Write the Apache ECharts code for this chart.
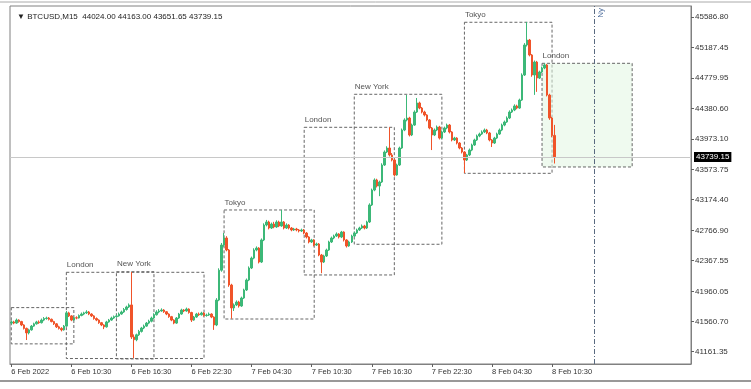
<!DOCTYPE html>
<html><head><meta charset="utf-8">
<script src="https://cdn.jsdelivr.net/npm/echarts@6/dist/echarts.min.js"></script>
<style>html,body{margin:0;padding:0;background:#fff}#c{width:751px;height:389px}</style>
</head><body><div id="c"></div>
<script>
// ---- data (BTCUSD M15) ----
const opens=[41540,41555,41540,41580,41560,41515,41470,41410,41450,41500,
41530,41555,41545,41580,41600,41607,41590,41560,41530,41490,
41470,41450,41500,41675,41635,41580,41610,41607,41640,41660,
41675,41687,41660,41635,41600,41580,41545,41515,41490,41555,
41580,41607,41625,41635,41660,41687,41720,41753,41780,41356,
41320,41385,41430,41475,41500,41540,41565,41607,41650,41687,
41700,41713,41690,41660,41625,41580,41540,41607,41660,41713,
41700,41726,41680,41580,41620,41660,41650,41673,41640,41647,
41660,41620,41515,41845,42240,42573,42666,42507,42044,41740,
41780,41819,41766,41872,41978,42110,42269,42400,42507,42533,
42348,42640,42838,42878,42798,42851,42812,42878,42825,42878,
42798,42838,42798,42772,42785,42772,42759,42772,42732,42679,
42613,42640,42573,42587,42441,42348,42428,42507,42613,42666,
42692,42719,42679,42745,42640,42560,42613,42692,42732,42772,
42798,42825,42798,42878,43103,43301,43434,43354,43407,43632,
43804,43857,43765,43698,43500,43632,43857,44095,44228,44254,
44029,44161,44333,44453,44386,44333,44294,44228,44122,44029,
44095,44135,43989,44069,44122,44161,44069,43963,43989,43923,
43857,43804,43698,43765,43830,43897,43963,44016,44042,44069,
44095,44056,43963,43923,43989,44042,44095,44161,44201,44254,
44333,44360,44413,44386,44492,44823,45220,45286,45088,44823,
44995,44783,44863,44916,44956,44558,44254,44024];
const closes=[41555,41540,41580,41560,41515,41470,41410,41450,41500,41530,
41555,41545,41580,41600,41607,41590,41560,41530,41490,41470,
41450,41500,41675,41635,41580,41610,41607,41640,41660,41675,
41687,41660,41635,41600,41580,41545,41515,41490,41555,41580,
41607,41625,41635,41660,41687,41720,41753,41780,41356,41320,
41385,41430,41475,41500,41540,41565,41607,41650,41687,41700,
41713,41690,41660,41625,41580,41540,41607,41660,41713,41700,
41726,41680,41580,41620,41660,41650,41673,41640,41647,41660,
41620,41515,41845,42240,42573,42666,42507,42044,41740,41780,
41819,41766,41872,41978,42110,42269,42400,42507,42533,42348,
42640,42838,42878,42798,42851,42812,42878,42825,42878,42798,
42838,42798,42772,42785,42772,42759,42772,42732,42679,42613,
42640,42573,42587,42441,42348,42428,42507,42613,42666,42692,
42719,42679,42745,42640,42560,42613,42692,42732,42772,42798,
42825,42798,42878,43103,43301,43434,43354,43407,43632,43804,
43857,43765,43698,43500,43632,43857,44095,44228,44254,44029,
44161,44333,44453,44386,44333,44294,44228,44122,44029,44095,
44135,43989,44069,44122,44161,44069,43963,43989,43923,43857,
43804,43698,43765,43830,43897,43963,44016,44042,44069,44095,
44056,43963,43923,43989,44042,44095,44161,44201,44254,44333,
44360,44413,44386,44492,44823,45220,45286,45088,44823,44995,
44783,44863,44916,44956,44558,44254,44024,43739.15];
const lows=[41520,41525,41530,41545,41500,41455,41316,41390,41440,41490,
41520,41530,41535,41565,41585,41575,41550,41515,41475,41455,
41430,41440,41490,41620,41565,41570,41590,41600,41630,41645,
41660,41645,41620,41585,41565,41530,41500,41460,41480,41545,
41570,41595,41610,41625,41650,41675,41705,41740,41330,41075,
41300,41370,41415,41460,41490,41525,41550,41595,41640,41670,
41690,41675,41645,41610,41565,41525,41530,41595,41650,41685,
41690,41665,41555,41570,41610,41635,41640,41625,41625,41635,
41605,41450,41500,41830,42220,42550,42490,42020,41598,41700,
41765,41745,41755,41860,41965,42095,42255,42385,42490,42330,
42335,42625,42820,42780,42785,42795,42800,42810,42815,42780,
42785,42780,42755,42760,42755,42740,42745,42715,42660,42595,
42600,42555,42560,42425,42200,42335,42415,42495,42600,42650,
42680,42660,42665,42620,42540,42550,42600,42680,42720,42760,
42785,42780,42785,42865,43090,43285,43335,43220,43395,43620,
43790,43745,43680,43480,43490,43620,43845,44080,44210,44010,
44015,44150,44320,44370,44315,44275,44210,44105,43830,44015,
44080,43970,43975,44055,44105,44050,43945,43950,43905,43840,
43785,43525,43685,43750,43815,43885,43950,44000,44030,44055,
44040,43945,43870,43910,43975,44030,44080,44145,44190,44240,
44320,44345,44370,44375,44480,44810,45200,45070,44800,44560,
44600,44770,44850,44900,44540,44230,44000,43651.65];
const highs=[41575,41570,41600,41590,41570,41525,41480,41465,41515,41545,
41570,41575,41600,41620,41625,41620,41600,41570,41540,41505,
41485,41515,41700,41690,41645,41625,41630,41655,41680,41690,
41710,41700,41670,41645,41615,41590,41555,41525,41570,41595,
41625,41640,41655,41680,41705,41740,41770,41800,42216,41390,
41400,41450,41490,41520,41555,41585,41625,41670,41710,41725,
41735,41725,41700,41670,41635,41590,41620,41675,41730,41725,
41745,41735,41690,41635,41675,41680,41690,41685,41665,41680,
41670,41630,41870,42265,42600,42732,42690,42520,42060,41800,
41840,41835,41890,41995,42130,42290,42420,42530,42555,42545,
42660,42860,42905,42895,42870,42880,42900,42895,43037,42890,
42860,42850,42810,42800,42800,42785,42790,42785,42745,42690,
42655,42650,42605,42600,42455,42445,42525,42630,42685,42710,
42740,42730,42760,42755,42650,42630,42710,42750,42790,42815,
42845,42840,42895,43125,43320,43455,43450,43425,43655,43825,
43880,44131,43790,43715,43650,43875,44115,44250,44558,44270,
44180,44355,44519,44470,44400,44350,44305,44240,44135,44115,
44155,44150,44090,44140,44180,44175,44080,44005,44000,43935,
43870,43815,43780,43850,43915,43980,44035,44060,44090,44115,
44110,44070,43975,44005,44060,44115,44180,44220,44275,44355,
44380,44435,44430,44510,44845,45245,45525,45300,45100,45015,
45010,44880,44935,44975,44970,44575,44270,44163];
const yTicks=[41161.35,41560.70,41960.05,42367.55,42766.90,43174.40,43573.75,43973.10,44380.60,44779.95,45187.45,45586.80];
const sessionNames=['','London','New York','Tokyo','London','New York','Tokyo','London'];
const sessionFrom=[0,22,42,85,117,137,181,212];
const sessionTo=[25,77,57,121,153,172,216,248];
const sessionTop=[41745,42212,42220,43037,44131,44568,45521,44978];
const sessionBottom=[41265,41071,41066,41594,42177,42583,43522,43606];
const lastPrice=43739.15;
const nyLineIndex=233;
const header='\u25BC BTCUSD,M15  44024.00 44163.00 43651.65 43739.15';
const barCount=272;
const months=['Jan','Feb','Mar'];

// category labels: 15-minute bars starting 6 Feb 2022 04:30
const categories=[];
const t0=Date.UTC(2022,1,6,4,30);
for(let i=0;i<barCount;i++){
  const d=new Date(t0+i*15*60000);
  const hh=String(d.getUTCHours()).padStart(2,'0');
  const mm=String(d.getUTCMinutes()).padStart(2,'0');
  categories.push(i===0?('6 Feb 2022'):(d.getUTCDate()+' '+months[d.getUTCMonth()]+' '+hh+':'+mm));
}
const candles=opens.map((o,i)=>[o,closes[i],lows[i],highs[i]]);

const areaData=sessionNames.map((n,k)=>[
  {name:n,xAxis:sessionFrom[k],yAxis:sessionTop[k],
   itemStyle:{color:k===7?'rgba(225,245,225,0.55)':'rgba(0,0,0,0)'}},
  {xAxis:sessionTo[k],yAxis:sessionBottom[k]}
]);

const FONT='Liberation Sans';
const chart=echarts.init(document.getElementById('c'),null,{renderer:'canvas'});
chart.setOption({
  animation:false,
  backgroundColor:'#fff',
  textStyle:{fontFamily:FONT},
  title:{text:header,left:12,top:8,textStyle:{fontSize:8,fontWeight:'normal',color:'#222',fontFamily:FONT}},
  grid:{left:10,top:6,width:681,height:358,show:true,borderColor:'#808080',borderWidth:1,backgroundColor:'transparent'},
  xAxis:{
    type:'category',data:categories,boundaryGap:true,
    axisLine:{show:true,lineStyle:{color:'#808080'}},
    axisTick:{show:true,length:3,alignWithLabel:true,interval:(i)=>i%24===0&&i<=216,lineStyle:{color:'#606060'}},
    axisLabel:{show:true,interval:(i)=>i%24===0&&i<=216,align:'left',margin:4,fontSize:7.5,color:'#333',fontFamily:FONT},
    splitLine:{show:false}
  },
  yAxis:{
    type:'value',position:'right',min:40998.6,max:45736.3,
    axisLine:{show:true,lineStyle:{color:'#808080'}},
    axisTick:{show:true,length:3,customValues:yTicks,lineStyle:{color:'#606060'}},
    axisLabel:{show:true,customValues:yTicks,formatter:(v)=>v.toFixed(2),margin:4,fontSize:8,color:'#333',fontFamily:FONT},
    splitLine:{show:false}
  },
  series:[{
    type:'candlestick',data:candles,barWidth:2,
    itemStyle:{color:'#3cb878',color0:'#f0542a',borderColor:'#3cb878',borderColor0:'#f0542a',borderWidth:1},
    markArea:{
      silent:true,
      itemStyle:{borderColor:'#666',borderWidth:1,borderType:[3,2]},
      label:{show:true,position:[1,-11],fontSize:8,color:'#555',fontFamily:FONT},
      data:areaData
    },
    markLine:{
      silent:true,symbol:'none',
      data:[
        {yAxis:lastPrice,lineStyle:{color:'#c8c8c8',type:'solid',width:1},
         label:{show:true,position:'end',distance:3,formatter:()=>lastPrice.toFixed(2),backgroundColor:'#000',color:'#fff',padding:[1,2,1,2],fontSize:8,fontFamily:FONT}},
        {xAxis:nyLineIndex,lineStyle:{color:'#5a6a80',type:[5,2,1,2],width:1},
         label:{show:true,position:'insideEndBottom',formatter:'Ny',color:'#4a6a9a',fontSize:8,fontFamily:FONT,distance:2}}
      ]
    }
  }],
  graphic:[
    {type:'line',shape:{x1:0,y1:2,x2:751,y2:2},style:{stroke:'#aaaaaa',lineWidth:1},silent:true},
    {type:'line',shape:{x1:0,y1:381,x2:751,y2:381},style:{stroke:'#999999',lineWidth:2},silent:true}
  ]
});
</script></body></html>
